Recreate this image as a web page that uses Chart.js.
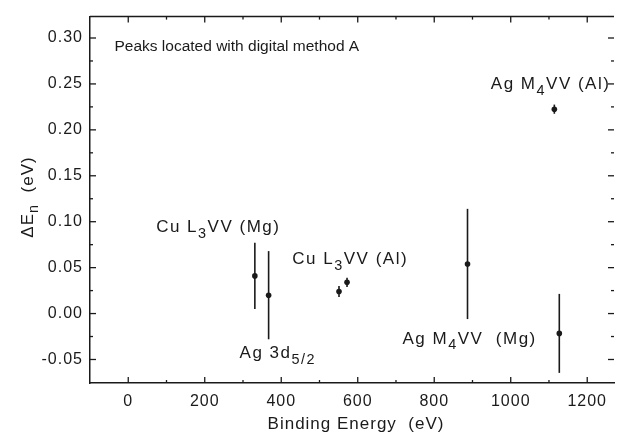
<!DOCTYPE html>
<html><head><meta charset="utf-8">
<script src="https://cdn.jsdelivr.net/npm/chart.js@4/dist/chart.umd.min.js"></script>
<style>html,body{margin:0;padding:0;background:#fff}#wrap{width:617px;height:435px}</style>
</head><body><div id="wrap"><canvas id="c" width="617" height="435"></canvas></div>
<script>
// ---- data ----
const bindingEnergy = [331, 367, 551, 572, 887, 1114, 1127];
const deltaE       = [0.041, 0.020, 0.024, 0.034, 0.054, 0.2225, -0.0216];
const deltaErr     = [0.036, 0.048, 0.006, 0.005, 0.060, 0.005, 0.043];
const xTickValues  = [0, 200, 400, 600, 800, 1000, 1200];
const yTickValues  = [-0.05, 0.00, 0.05, 0.10, 0.15, 0.20, 0.25, 0.30];
const annotationTexts = [
  [{t:'Peaks located with digital method A'}],
  [{t:'Ag M'},{t:'4',sub:true},{t:'VV (Al)'}],
  [{t:'Cu L'},{t:'3',sub:true},{t:'VV (Mg)'}],
  [{t:'Cu L'},{t:'3',sub:true},{t:'VV (Al)'}],
  [{t:'Ag 3d'},{t:'5/2',sub:true}],
  [{t:'Ag M'},{t:'4',sub:true},{t:'VV  (Mg)'}]
];
const annotationAnchors = [[-36,0.291],[948,0.2495],[73,0.0936],[429,0.0587],[291,-0.0435],[717,-0.0276]];
const xTitle = 'Binding Energy  (eV)';
const yTitleParts = [{t:'\u0394E'},{t:'n',sub:true},{t:'  (eV)'}];

const FONT = '"Liberation Sans", Arial, sans-serif';
const INK = '#1a1a1a';

function drawRich(ctx, parts, x, y, size, sp) {
  ctx.letterSpacing = sp + 'px';
  let cx = x;
  for (const p of parts) {
    const s = p.sub ? size * 0.85 : size;
    ctx.font = s + 'px ' + FONT;
    ctx.fillText(p.t, cx, y + (p.sub ? size * 0.38 : 0));
    cx += ctx.measureText(p.t).width;
  }
  return cx - x;
}
function richWidth(ctx, parts, size, sp) {
  ctx.letterSpacing = sp + 'px';
  let w = 0;
  for (const p of parts) { ctx.font = (p.sub ? size*0.85 : size) + 'px ' + FONT; w += ctx.measureText(p.t).width; }
  return w;
}

const spacing = {
  id: 'spacing',
  beforeUpdate(chart) { chart.ctx.letterSpacing = '1px'; },
  beforeDraw(chart) { chart.ctx.letterSpacing = '1px'; }
};

const decor = {
  id: 'decor',
  afterDatasetsDraw(chart) {
    const ctx = chart.ctx, xs = chart.scales.x, ys = chart.scales.y, a = chart.chartArea;
    ctx.save();
    // error bars
    ctx.strokeStyle = INK; ctx.lineWidth = 1.6;
    for (let i = 0; i < bindingEnergy.length; i++) {
      const px = xs.getPixelForValue(bindingEnergy[i]);
      ctx.beginPath();
      ctx.moveTo(px, ys.getPixelForValue(deltaE[i] + deltaErr[i]));
      ctx.lineTo(px, ys.getPixelForValue(deltaE[i] - deltaErr[i]));
      ctx.stroke();
    }
    // frame top line
    ctx.lineWidth = 1.5;
    ctx.beginPath(); ctx.moveTo(a.left, a.top); ctx.lineTo(a.right, a.top); ctx.stroke();
    // ticks
    ctx.lineWidth = 1.3;
    const majX = 6, minX = 3;
    for (let v = -100; v <= 1200; v += 100) {
      const px = xs.getPixelForValue(v);
      const L = (v % 200 === 0) ? majX : minX;
      if (v <= -100) continue;
      ctx.beginPath(); ctx.moveTo(px, a.bottom); ctx.lineTo(px, a.bottom - L); ctx.stroke();
      ctx.beginPath(); ctx.moveTo(px, a.top); ctx.lineTo(px, a.top + L); ctx.stroke();
    }
    for (let k = -3; k <= 12; k++) {
      const v = k * 0.025;
      const py = ys.getPixelForValue(v);
      if (py > a.bottom - 1 || py < a.top + 1) continue;
      const L = (k % 2 === 0) ? majX : minX;
      ctx.beginPath(); ctx.moveTo(a.left, py); ctx.lineTo(a.left + L, py); ctx.stroke();
      ctx.beginPath(); ctx.moveTo(a.right, py); ctx.lineTo(a.right - L, py); ctx.stroke();
    }
    // annotations
    ctx.fillStyle = INK; ctx.textBaseline = 'middle'; ctx.textAlign = 'left';
    annotationTexts.forEach((parts, i) => {
      const [vx, vy] = annotationAnchors[i];
      const isNote = i === 0;
      drawRich(ctx, parts, xs.getPixelForValue(vx), ys.getPixelForValue(vy), isNote ? 15.5 : 17, isNote ? 0 : 1.5);
    });
    // x title
    ctx.font = '17px ' + FONT; ctx.textAlign = 'center'; ctx.letterSpacing = '1px';
    ctx.fillText(xTitle, 356, 424);
    // y title
    ctx.save();
    ctx.translate(28, 197); ctx.rotate(-Math.PI / 2);
    ctx.textAlign = 'left';
    const w = richWidth(ctx, yTitleParts, 17, 1);
    drawRich(ctx, yTitleParts, -w / 2, 0, 17, 1);
    ctx.restore();
    ctx.restore();
    ctx.letterSpacing = '1px';
  }
};

new Chart(document.getElementById('c'), {
  type: 'scatter',
  data: { datasets: [{
    data: bindingEnergy.map((x, i) => ({ x, y: deltaE[i] })),
    pointRadius: 2.8, pointHoverRadius: 2.8,
    pointBackgroundColor: INK, pointBorderColor: INK, pointBorderWidth: 0
  }]},
  options: {
    responsive: false, animation: false, devicePixelRatio: 1,
    layout: { padding: { top: 13, right: 3, left: 0, bottom: 0 } },
    plugins: { legend: { display: false }, tooltip: { enabled: false } },
    scales: {
      x: {
        type: 'linear', min: -100, max: 1270,
        afterBuildTicks: s => { s.ticks = xTickValues.map(v => ({ value: v })); },
        afterFit: s => { s.height = 52; },
        grid: { display: false, drawTicks: false },
        border: { display: true, color: INK, width: 1.5 },
        ticks: { color: INK, font: { family: FONT, size: 16 }, padding: 9, maxRotation: 0,
                 callback: v => String(v) }
      },
      y: {
        type: 'linear', min: -0.0756, max: 0.3233,
        afterBuildTicks: s => { s.ticks = yTickValues.map(v => ({ value: v })); },
        afterFit: s => { s.width = 90; },
        grid: { display: false, drawTicks: false },
        border: { display: true, color: INK, width: 1.5 },
        ticks: { color: INK, font: { family: FONT, size: 16 }, padding: 7,
                 callback: v => v.toFixed(2) }
      }
    }
  },
  plugins: [spacing, decor]
});
</script></body></html>
